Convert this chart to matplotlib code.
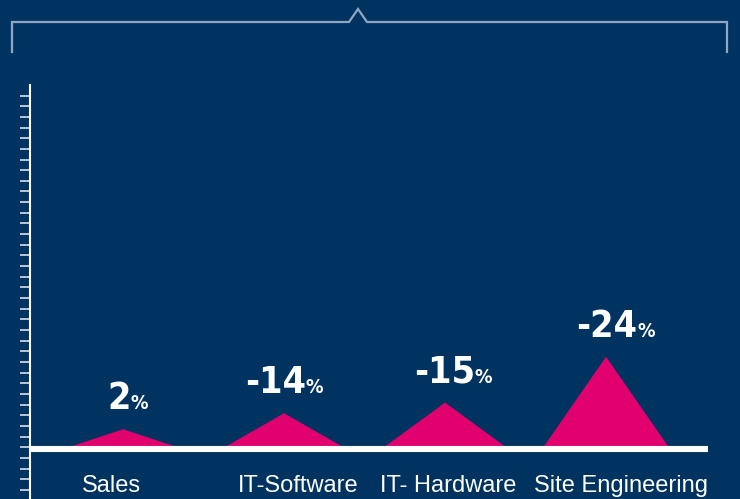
import matplotlib.pyplot as plt
import numpy as np
from matplotlib.lines import Line2D
from matplotlib.offsetbox import TextArea, HPacker, AnnotationBbox

categories = ["Sales", "IT-Software", "IT- Hardware", "Site Engineering"]
changes = [2, -14, -15, -24]
peak_height = [1.7, 3.2, 4.2, 8.5]
half_width = [0.34, 0.37, 0.38, 0.39]

bg = "#003360"
pink = "#e0006e"
pale = "#8fa8c0"

fig = plt.figure(figsize=(7.4, 4.99), dpi=100, facecolor=bg)
ax = fig.add_axes([30 / 740, 0, 710 / 740, (499 - 85) / 499])
ax.set_facecolor(bg)
ax.set_xlim(-0.578, 3.832)
ax.set_ylim(-4.85, 33.99)

# triangles
for i, (h, w) in enumerate(zip(peak_height, half_width)):
    ax.fill([i - w, i, i + w], [0, h, 0], color=pink, lw=0, zorder=2)

# white base line
ax.plot([-0.578, 3.634], [-0.15, -0.15], color="white", lw=4.4,
        solid_capstyle="butt", zorder=3)

# percentage labels
label_dx = [0.03, 0.0, 0.05, 0.06]
for i, (v, h) in enumerate(zip(changes, peak_height)):
    num = TextArea(str(v), textprops=dict(color="white", fontsize=27,
                                          fontweight="bold", family="DejaVu Sans",
                                          fontstretch="condensed"))
    pct = TextArea("%", textprops=dict(color="white", fontsize=14,
                                       fontweight="bold", family="DejaVu Sans",
                                       fontstretch="condensed"))
    box = HPacker(children=[num, pct], align="baseline", pad=0, sep=0)
    ab = AnnotationBbox(box, (i + label_dx[i], h + 1.1), box_alignment=(0.5, 0),
                        frameon=False, zorder=4)
    ax.add_artist(ab)

# category names
name_dx = [-0.07, 0.09, 0.02, 0.09]
for i, name in enumerate(categories):
    ax.text(i + name_dx[i], -4.2, name, color="white", fontsize=17,
            family="Liberation Sans", ha="center", va="baseline")

# axis styling
for s in ["top", "right", "bottom"]:
    ax.spines[s].set_visible(False)
ax.spines["left"].set_color("white")
ax.spines["left"].set_linewidth(1.5)
ax.set_xticks([])
ax.set_yticks(np.arange(-4, 34))
ax.set_yticklabels([])
ax.tick_params(axis="y", direction="out", length=7, width=1.3, color="#c8d3df")

# bracket at the top
bx = np.array([12, 12, 349, 358, 367, 727, 727]) / 740
by = 1 - np.array([52, 22, 22, 9, 22, 22, 52]) / 499
fig.add_artist(Line2D(bx, by, color=pale, lw=1.6, solid_joinstyle="miter"))

fig.savefig("out.png", dpi=100, facecolor=bg)
